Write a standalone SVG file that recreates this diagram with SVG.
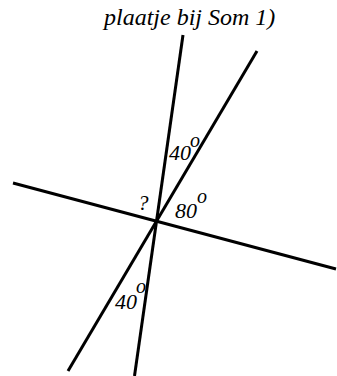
<svg xmlns="http://www.w3.org/2000/svg" width="337" height="376" viewBox="0 0 337 376">
<style>
.ln{stroke:#000;stroke-width:3;fill:none;stroke-linecap:butt}
.t{font-family:"Liberation Serif","Times New Roman",serif;font-style:italic;fill:#000}
.n{font-size:22px}
.s{font-size:20px}
</style>
<rect width="337" height="376" fill="#fff"/>
<g id="connectors">
<line class="ln" x1="183" y1="35" x2="134.5" y2="376"/>
<line class="ln" x1="257" y1="51" x2="68" y2="371"/>
<line class="ln" x1="13" y1="183" x2="336" y2="269"/>
</g>
<g id="title"><text class="t" x="104" y="25" font-size="24">plaatje bij Som 1)</text></g>
<g id="angle-top"><text class="t n" x="169" y="160">40</text><text class="t s" x="190" y="147">o</text></g>
<g id="angle-q"><text class="t" x="138" y="210" font-size="21">?</text></g>
<g id="angle-80"><text class="t n" x="175" y="218">80</text><text class="t s" x="197" y="203">o</text></g>
<g id="angle-bottom"><text class="t n" x="115" y="309">40</text><text class="t s" x="136" y="293">o</text></g>
</svg>
